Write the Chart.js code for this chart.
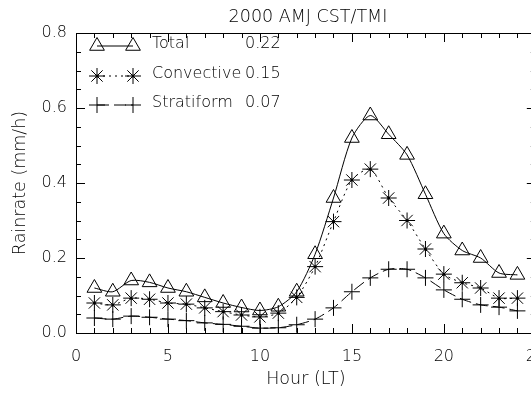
<!DOCTYPE html>
<html>
<head>
<meta charset="utf-8">
<script src="https://cdn.jsdelivr.net/npm/chart.js"></script>
<style>
  html, body { margin: 0; padding: 0; background: #fff; overflow: hidden; }
  #wrap { width: 560px; height: 394px; }
</style>
</head>
<body>
<div id="wrap"><canvas id="myChart" width="560" height="394"></canvas></div>
<script>
let hours = [1, 2, 3, 4, 5, 6, 7, 8, 9, 10, 11, 12, 13, 14, 15, 16, 17, 18, 19, 20, 21, 22, 23, 24];
let total = [0.12, 0.11, 0.14, 0.135, 0.12, 0.11, 0.095, 0.08, 0.068, 0.06, 0.07, 0.11,
  0.21, 0.36, 0.52, 0.58, 0.53, 0.475, 0.37, 0.265, 0.22, 0.20, 0.16, 0.155];
let convective = [0.08, 0.075, 0.093, 0.09, 0.08, 0.077, 0.067, 0.057, 0.048, 0.043, 0.053, 0.095,
  0.177, 0.297, 0.408, 0.437, 0.36, 0.30, 0.224, 0.157, 0.134, 0.12, 0.093, 0.093];
let stratiform = [0.04, 0.037, 0.045, 0.042, 0.037, 0.033, 0.027, 0.023, 0.018, 0.013, 0.014, 0.022,
  0.037, 0.067, 0.11, 0.147, 0.17, 0.17, 0.147, 0.115, 0.09, 0.075, 0.069, 0.059];
let seriesNames = ['Total', 'Convective', 'Stratiform'];
let seriesMeans = ['0.22', '0.15', '0.07'];
let xTicks = [0, 5, 10, 15, 20, 25];
let yTicks = [0.0, 0.2, 0.4, 0.6, 0.8];

const FONT = 'DejaVu Sans';
Chart.defaults.font.family = FONT;
Chart.defaults.font.size = 16;
Chart.defaults.font.weight = '300';
Chart.defaults.color = '#000';

function pts(values) {
  return hours.map((h, i) => ({ x: h, y: values[i] }));
}

// IDL style box: frame + inward ticks on all sides
const boxPlugin = {
  id: 'box',
  afterDraw(chart) {
    const ctx = chart.ctx;
    const a = chart.chartArea;
    const xs = chart.scales.x;
    const ys = chart.scales.y;
    ctx.save();
    ctx.strokeStyle = '#000';
    ctx.lineWidth = 1;
    ctx.strokeRect(a.left + 0.5, a.top + 0.5, a.right - a.left, a.bottom - a.top);
    ctx.beginPath();
    for (let v = 0; v <= 25; v++) {
      const px = Math.round(xs.getPixelForValue(v)) + 0.5;
      const len = v % 5 === 0 ? 9 : 5;
      ctx.moveTo(px, a.bottom); ctx.lineTo(px, a.bottom - len);
      ctx.moveTo(px, a.top); ctx.lineTo(px, a.top + len);
    }
    for (let k = 0; k <= 16; k++) {
      const py = Math.round(ys.getPixelForValue(k * 0.05)) + 0.5;
      const len = k % 4 === 0 ? 9 : 5;
      ctx.moveTo(a.left, py); ctx.lineTo(a.left + len, py);
      ctx.moveTo(a.right, py); ctx.lineTo(a.right - len, py);
    }
    ctx.stroke();
    // title
    ctx.fillStyle = '#000';
    ctx.font = '300 17.5px ' + FONT;
    ctx.textAlign = 'center';
    ctx.textBaseline = 'middle';
    ctx.fillText('2000 AMJ CST/TMI', 308, 17);
    ctx.restore();
  }
};

// legend inside the plot + dots in asterisks
const legendPlugin = {
  id: 'idlLegend',
  afterDatasetsDraw(chart) {
    const ctx = chart.ctx;
    const rows = [46, 76, 105];
    ctx.save();
    chart.data.datasets.forEach((ds, i) => {
      const y = rows[i];
      ctx.strokeStyle = '#000';
      ctx.lineWidth = 1;
      ctx.setLineDash(ds.borderDash || []);
      ctx.beginPath();
      ctx.moveTo(97, y);
      ctx.lineTo(133, y);
      ctx.stroke();
      ctx.setLineDash([]);
      [97, 133].forEach((x) => {
        ctx.fillStyle = 'rgba(0,0,0,0)';
        Chart.helpers.drawPoint(ctx, { pointStyle: ds.pointStyle, radius: ds.pointRadius, rotation: 0, borderWidth: 1 }, x, y);
        if (ds.pointStyle === 'star') {
          ctx.fillStyle = '#000';
          ctx.beginPath(); ctx.arc(x, y, 1.5, 0, Math.PI * 2); ctx.fill();
        }
      });
      ctx.fillStyle = '#000';
      ctx.font = '300 16px ' + FONT;
      ctx.textAlign = 'left';
      ctx.textBaseline = 'middle';
      ctx.fillText(seriesNames[i], 152, y - 2);
      ctx.fillText(seriesMeans[i], 245, y - 2);
    });
    const meta = chart.getDatasetMeta(1);
    ctx.fillStyle = '#000';
    meta.data.forEach((p) => {
      ctx.beginPath(); ctx.arc(p.x, p.y, 1.5, 0, Math.PI * 2); ctx.fill();
    });
    ctx.restore();
  }
};

let myChart = document.getElementById('myChart').getContext('2d');
let chart = new Chart(myChart, {
  type: 'line',
  data: {
    datasets: [
      {
        label: seriesNames[0],
        data: pts(total),
        borderColor: '#000',
        borderWidth: 1,
        pointStyle: 'triangle',
        pointRadius: 8.5,
        pointBorderColor: '#000',
        pointBackgroundColor: 'rgba(0,0,0,0)',
        pointBorderWidth: 1,
        tension: 0.25,
      },
      {
        label: seriesNames[1],
        data: pts(convective),
        borderColor: '#000',
        borderWidth: 1,
        borderDash: [2, 4],
        pointStyle: 'star',
        pointRadius: 8,
        pointBorderColor: '#000',
        pointBackgroundColor: 'rgba(0,0,0,0)',
        pointBorderWidth: 1,
        tension: 0.25,
      },
      {
        label: seriesNames[2],
        data: pts(stratiform),
        borderColor: '#000',
        borderWidth: 1,
        borderDash: [12, 5],
        pointStyle: 'cross',
        pointRadius: 8,
        pointBorderColor: '#000',
        pointBackgroundColor: 'rgba(0,0,0,0)',
        pointBorderWidth: 1,
        tension: 0.25,
      },
    ],
  },
  options: {
    responsive: false,
    animation: false,
    devicePixelRatio: 1,
    layout: { padding: { top: 33, right: 19, left: 0, bottom: 0 } },
    plugins: {
      legend: { display: false },
      tooltip: { enabled: false },
      title: { display: false },
    },
    scales: {
      x: {
        type: 'linear',
        min: 0,
        max: 25,
        afterBuildTicks: (s) => { s.ticks = xTicks.map((v) => ({ value: v })); },
        afterFit: (s) => { s.height = 61; },
        grid: { display: false, drawTicks: false },
        border: { display: false },
        ticks: { padding: 14, maxRotation: 0, color: '#000' },
        title: { display: true, text: 'Hour (LT)', font: { size: 17.5 }, padding: { top: 0, bottom: 4 }, color: '#000' },
      },
      y: {
        min: 0,
        max: 0.8,
        afterBuildTicks: (s) => { s.ticks = yTicks.map((v) => ({ value: v })); },
        afterFit: (s) => { s.width = 76; },
        grid: { display: false, drawTicks: false },
        border: { display: false },
        ticks: { padding: 9, color: '#000', callback: (v) => v.toFixed(1) },
        title: { display: true, text: 'Rainrate (mm/h)', font: { size: 17.5 }, padding: { top: 10, bottom: 0 }, color: '#000' },
      },
    },
  },
  plugins: [boxPlugin, legendPlugin],
});
</script>
</body>
</html>
